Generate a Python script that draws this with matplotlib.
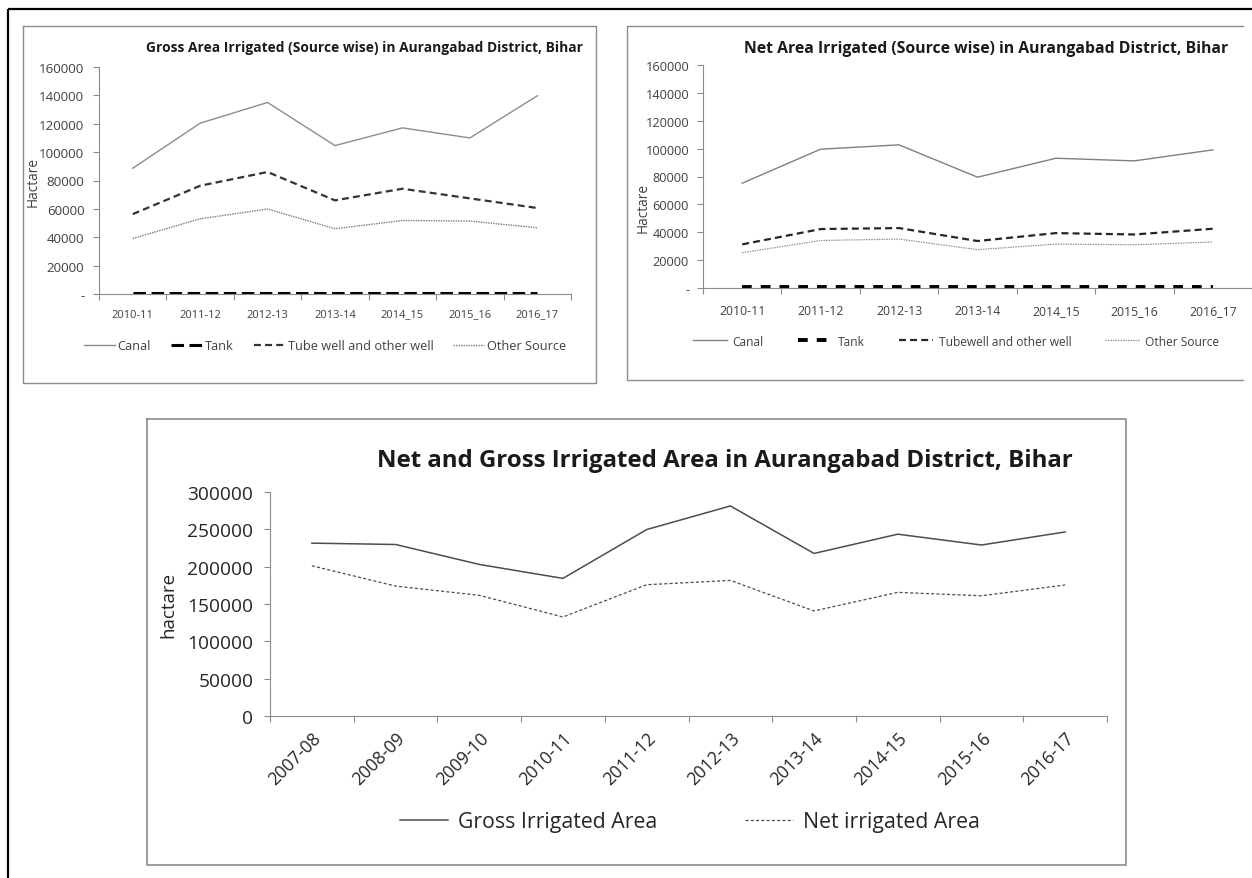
import numpy as np
import matplotlib
matplotlib.use('Agg')
import matplotlib.pyplot as plt
from matplotlib.ticker import FuncFormatter

plt.rcParams['font.family'] = ['Open Sans', 'DejaVu Sans']
plt.rcParams['lines.scale_dashes'] = False

# ---------------- data ----------------
years_src = ['2010-11', '2011-12', '2012-13', '2013-14', '2014_15', '2015_16', '2016_17']
gross_canal = [88600, 120400, 135000, 104600, 117100, 110000, 139700]
gross_tank = [600, 600, 600, 600, 600, 600, 600]
gross_tube = [56300, 76300, 86000, 66000, 74200, 67400, 60600]
gross_other = [39100, 53000, 59900, 46000, 51800, 51400, 46700]

net_canal = [75200, 99600, 102700, 79500, 93100, 91200, 99100]
net_tank = [600, 600, 600, 600, 600, 600, 600]
net_tube = [31300, 42300, 43000, 33700, 39400, 38400, 42500]
net_other = [25300, 34100, 35100, 27500, 31500, 31000, 33000]

years_all = ['2007-08', '2008-09', '2009-10', '2010-11', '2011-12',
             '2012-13', '2013-14', '2014-15', '2015-16', '2016-17']
gross_total = [231500, 229700, 203000, 184300, 249700, 281300, 217700, 243500, 229000, 246500]
net_total = [201200, 174000, 161600, 132600, 175800, 181600, 140700, 165600, 161000, 175500]

# ---------------- layout helpers ----------------
W, H = 1252, 879
fig = plt.figure(figsize=(W / 100, H / 100), dpi=100)
fig.patch.set_facecolor('white')
renderer = fig.canvas.get_renderer()


def fit(s, target_px, weight='normal', base=10.0):
    t = fig.text(0, 0, s, fontsize=base, fontweight=weight)
    w = t.get_window_extent(renderer=renderer).width
    t.remove()
    return base * target_px / w


def add_ax(l, t, r, b):
    return fig.add_axes([l / W, 1 - b / H, (r - l) / W, (b - t) / H])


def em(fs):
    return fs * 100 / 72.0


# background overlay for frames
bg = fig.add_axes([0, 0, 1, 1], zorder=-5)
bg.set_xlim(0, W)
bg.set_ylim(H, 0)
bg.axis('off')
bg.plot([8, W], [10, 10], color='black', lw=1.6, solid_capstyle='butt')
bg.plot([8, 8], [10, H], color='black', lw=1.6, solid_capstyle='butt')
box_c = '#8c8c8c'
bg.plot([23, 596, 596, 23, 23], [27, 27, 384, 384, 27], color=box_c, lw=1.0)
bg.plot([1243, 627, 627, 1243], [27, 27, 381, 381], color=box_c, lw=1.0)
bg.plot([147, 1126, 1126, 147, 147], [420, 420, 866, 866, 420], color=box_c, lw=1.2)

axis_c = '#8c8c8c'
tick_txt = '#404040'


def style_axes(ax, n, ymax, ystep, zero_label, fs_y, fs_x, ypad, xpad, txtc):
    ax.set_facecolor('none')
    ax.set_xlim(-0.5, n - 0.5)
    ax.set_ylim(0, ymax)
    for s in ['top', 'right']:
        ax.spines[s].set_visible(False)
    for s in ['left', 'bottom']:
        ax.spines[s].set_color(axis_c)
        ax.spines[s].set_linewidth(0.8)
    ax.set_xticks(np.arange(n))
    ax.set_xticks(np.arange(-0.5, n), minor=True)
    ax.tick_params(axis='x', which='major', length=0, pad=xpad, labelsize=fs_x, labelcolor=txtc)
    ax.tick_params(axis='x', which='minor', length=4, width=0.8, color=axis_c, direction='out')
    ax.set_yticks(np.arange(0, ymax + 1, ystep))
    ax.yaxis.set_major_formatter(FuncFormatter(lambda v, p: zero_label if v == 0 else f'{int(v)}'))
    ax.tick_params(axis='y', length=4, width=0.8, color=axis_c, direction='out', pad=ypad,
                   labelsize=fs_y, labelcolor=txtc)


def legend(ax, handles, cx, cy, fs, hpx, ppx, cpx, color):
    e = em(fs)
    ax.legend(handles=handles, loc='center', bbox_to_anchor=(cx / W, 1 - cy / H),
              bbox_transform=fig.transFigure, ncol=len(handles), frameon=False, fontsize=fs,
              handlelength=hpx / e, handletextpad=ppx / e, columnspacing=cpx / e,
              borderpad=0, borderaxespad=0, labelcolor=color)


# ---------------- top-left: gross source wise ----------------
ax1 = add_ax(99, 68, 571, 295)
x7 = np.arange(len(years_src))
l1 = ax1.plot(x7, gross_canal, color='#8c8c8c', lw=1.0, label='Canal')[0]
l2 = ax1.plot(x7, gross_tank, color='black', lw=2.2, ls=(0, (9, 4)), label='Tank')[0]
l3 = ax1.plot(x7, gross_tube, color='#333333', lw=1.6, ls=(0, (5, 3)), label='Tube well and other well')[0]
l4 = ax1.plot(x7, gross_other, color='#7a7a7a', lw=1.0, ls=(0, (1, 0.8)), label='Other Source')[0]
fs_y1 = fit('160000', 46)
fs_x1 = fit('2010-11', 42)
style_axes(ax1, 7, 160000, 20000, '-', fs_y1, fs_x1, 6.5, 10.5, tick_txt)
ax1.set_xticklabels(years_src)
t1 = 'Gross Area Irrigated (Source wise) in Aurangabad District, Bihar'
fig.text(365 / W, 1 - 48 / H, t1, ha='center', va='center',
         fontsize=fit(t1, 436, 'bold'), fontweight='bold', color='#1a1a1a')
fig.text(33 / W, 1 - 182 / H, 'Hactare', rotation=90, ha='center', va='center',
         fontsize=fit('Hactare', 50), color=tick_txt)
fs_l1 = fit('Tube well and other well', 145)
legend(ax1, [l1, l2, l3, l4], 325, 347, fs_l1, 31, 3, 20, tick_txt)

# ---------------- top-right: net source wise ----------------
ax2 = add_ax(703, 66, 1252, 289)
m1 = ax2.plot(x7, net_canal, color='#808080', lw=1.0, label='Canal')[0]
m2 = ax2.plot(x7, net_tank, color='black', lw=2.8, ls=(0, (7, 6.5)), label='Tank')[0]
m3 = ax2.plot(x7, net_tube, color='#262626', lw=1.6, ls=(0, (5, 3)), label='Tubewell and other well')[0]
m4 = ax2.plot(x7, net_other, color='#8c8c8c', lw=0.9, ls=(0, (1, 0.8)), label='Other Source')[0]
fs_y2 = fit('160000', 44)
fs_x2 = fit('2010-11', 46)
style_axes(ax2, 7, 160000, 20000, '-', fs_y2, fs_x2, 6, 11.5, tick_txt)
ax2.set_xticklabels(years_src)
t2 = 'Net Area Irrigated (Source wise) in Aurangabad District, Bihar'
fig.text(986 / W, 1 - 49 / H, t2, ha='center', va='center',
         fontsize=fit(t2, 484, 'bold'), fontweight='bold', color='#1a1a1a')
fig.text(643 / W, 1 - 208 / H, 'Hactare', rotation=90, ha='center', va='center',
         fontsize=fit('Hactare', 50), color=tick_txt)
fs_l2 = fit('Tubewell and other well', 134)
legend(ax2, [m1, m2, m3, m4], 956, 342, fs_l2, 34, 6, 34, tick_txt)

# ---------------- bottom: net and gross ----------------
ax3 = add_ax(270, 493, 1107, 717)
x10 = np.arange(len(years_all))
g1 = ax3.plot(x10, gross_total, color='#4d4d4d', lw=1.1, label='Gross Irrigated Area')[0]
g2 = ax3.plot(x10, net_total, color='#4d4d4d', lw=0.9, ls=(0, (2.2, 1.6)), label='Net irrigated Area')[0]
fs_y3 = fit('300000', 66)
fs_x3 = fit('2007-08', 66)
style_axes(ax3, 10, 300000, 50000, '0', fs_y3, fs_x3, 8, 4, '#262626')
ax3.set_xticklabels(years_all, rotation=45, ha='right', rotation_mode='anchor')
ax3.tick_params(axis='x', which='major', pad=9)
t3 = 'Net and Gross Irrigated Area in Aurangabad District, Bihar'
fig.text(725 / W, 1 - 461 / H, t3, ha='center', va='center',
         fontsize=fit(t3, 696, 'bold'), fontweight='bold', color='#1a1a1a')
fig.text(168 / W, 1 - 605 / H, 'hactare', rotation=90, ha='center', va='center',
         fontsize=fit('hactare', 66), color='#262626')
fs_l3 = fit('Gross Irrigated Area', 199)
legend(ax3, [g1, g2], 690, 823, fs_l3, 48, 10, 87, '#262626')

fig.savefig('out.png', dpi=100)
